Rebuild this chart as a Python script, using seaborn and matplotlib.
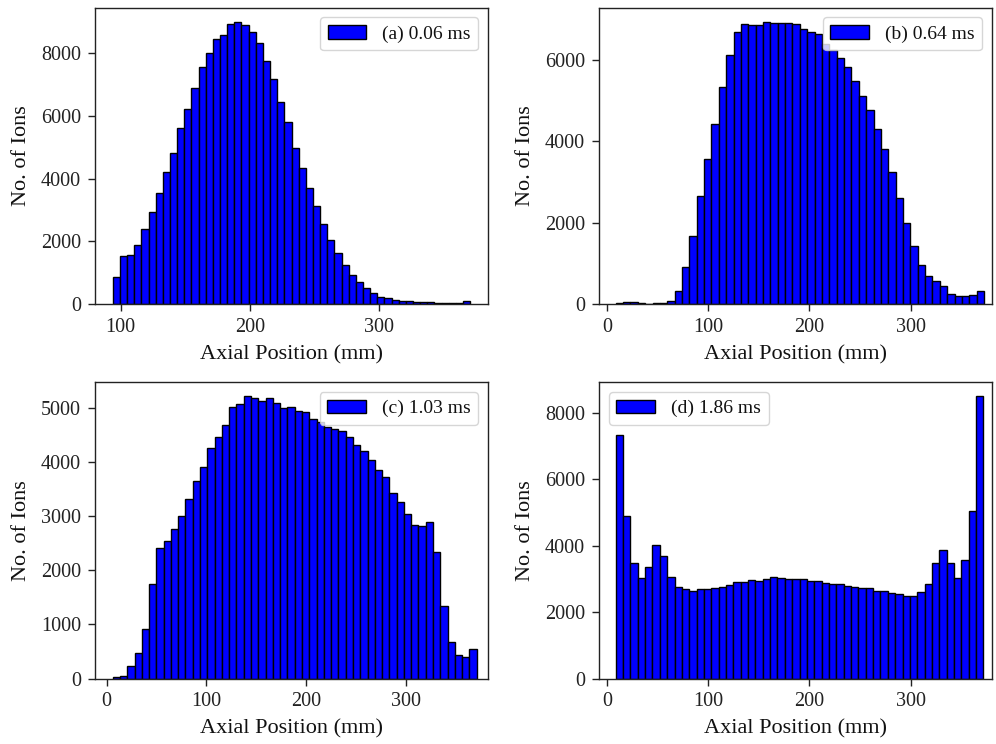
import numpy as np
import pandas as pd
import matplotlib
matplotlib.use("Agg")
import matplotlib.pyplot as plt
from matplotlib.patches import Patch
import seaborn as sns

# Ion counts in 50 equal-width axial bins for each time snapshot
counts_a = [840, 1511, 1565, 1885, 2386, 2929, 3536, 4227, 4814, 5633,
            6220, 6901, 7582, 8009, 8457, 8594, 8946, 9019, 8914, 8700,
            8329, 7764, 7188, 6440, 5810, 4974, 4345, 3696, 3109, 2546,
            2022, 1620, 1224, 904, 693, 502, 342, 210, 180, 135,
            100, 75, 65, 55, 40, 30, 25, 20, 20, 90]
counts_b = [30, 35, 35, 30, 0, 10, 25, 60, 320, 894,
            1673, 2657, 3567, 4428, 5346, 6142, 6699, 6888, 6863, 6863,
            6953, 6920, 6920, 6920, 6888, 6782, 6699, 6658, 6412, 6248,
            6060, 5838, 5494, 5117, 4772, 4305, 3821, 3255, 2600, 1985,
            1427, 943, 672, 566, 426, 246, 180, 180, 221, 320]
counts_c = [30, 45, 228, 463, 919, 1746, 2407, 2549, 2765, 3006,
            3320, 3654, 3907, 4259, 4456, 4691, 5018, 5074, 5215, 5185,
            5123, 5185, 5092, 5000, 5018, 4950, 4926, 4796, 4741, 4642,
            4617, 4580, 4456, 4320, 4197, 4043, 3845, 3722, 3426, 3259,
            3037, 2839, 2820, 2889, 2339, 1339, 672, 431, 389, 537]
counts_d = [7344, 4909, 3490, 3037, 3350, 4024, 3701, 3067, 2765, 2686,
            2645, 2686, 2686, 2726, 2765, 2816, 2898, 2898, 2967, 2937,
            2997, 3067, 3037, 2997, 2997, 2997, 2937, 2937, 2886, 2837,
            2837, 2796, 2765, 2735, 2726, 2645, 2645, 2584, 2535, 2494,
            2494, 2614, 2846, 3471, 3873, 3471, 3037, 3571, 5050, 8500]

# Axial extent (mm) covered by the ions at each snapshot
span_a = (94.0, 370.3)
span_b = (8.3, 372.6)
span_c = (6.0, 371.0)
span_d = (8.3, 372.0)

labels = ["(a) 0.06 ms", "(b) 0.64 ms", "(c) 1.03 ms", "(d) 1.86 ms"]
xticks_a = [100, 200, 300]
xticks_bcd = [0, 100, 200, 300]
yticks_a = [0, 2000, 4000, 6000, 8000]
yticks_b = [0, 2000, 4000, 6000]
yticks_c = [0, 1000, 2000, 3000, 4000, 5000]
yticks_d = [0, 2000, 4000, 6000, 8000]

sns.set_theme(style="ticks")
plt.rcParams["font.family"] = ["Liberation Serif", "DejaVu Serif"]
plt.rcParams["axes.edgecolor"] = "#222222"
plt.rcParams["xtick.color"] = "#222222"
plt.rcParams["ytick.color"] = "#222222"
plt.rcParams["text.color"] = "#111111"
plt.rcParams["axes.labelcolor"] = "#111111"

fig, axes = plt.subplots(2, 2, figsize=(9.96, 7.44), dpi=100)
fig.subplots_adjust(left=95 / 996, right=992 / 996,
                    bottom=1 - 678.5 / 744, top=1 - 7.5 / 744,
                    wspace=0.2824, hspace=0.265)

panels = [
    (axes[0, 0], counts_a, span_a, labels[0], xticks_a, yticks_a, "upper right", None),
    (axes[0, 1], counts_b, span_b, labels[1], xticks_bcd, yticks_b, "upper right", (-8.2, 380.5)),
    (axes[1, 0], counts_c, span_c, labels[2], xticks_bcd, yticks_c, "upper right", (-11.7, 382.3)),
    (axes[1, 1], counts_d, span_d, labels[3], xticks_bcd, yticks_d, "upper left", (-8.2, 380.5)),
]

for ax, counts, span, lab, xt, yt, loc, xlim in panels:
    nbins = len(counts)
    width = (span[1] - span[0]) / nbins
    centers = span[0] + width * (np.arange(nbins) + 0.5)
    df = pd.DataFrame({"position": centers, "ions": counts})
    sns.histplot(data=df, x="position", weights="ions",
                 bins=nbins, binrange=span,
                 color="blue", edgecolor="black", linewidth=1.0,
                 alpha=1.0, ax=ax)
    if xlim is not None:
        ax.set_xlim(*xlim)
    ax.set_xticks(xt)
    ax.set_yticks(yt)
    ax.set_xlabel("Axial Position (mm)", fontsize=16, labelpad=6)
    ax.set_ylabel("No. of Ions", fontsize=16, labelpad=7)
    ax.tick_params(labelsize=14.5, length=5, width=1, pad=5)
    for s in ax.spines.values():
        s.set_linewidth(1.0)
    handle = Patch(facecolor="blue", edgecolor="black", label=lab)
    ax.legend(handles=[handle], loc=loc, fontsize=14, frameon=True,
              fancybox=True, framealpha=0.8, edgecolor="0.8")

fig.savefig("out.png", dpi=100)
